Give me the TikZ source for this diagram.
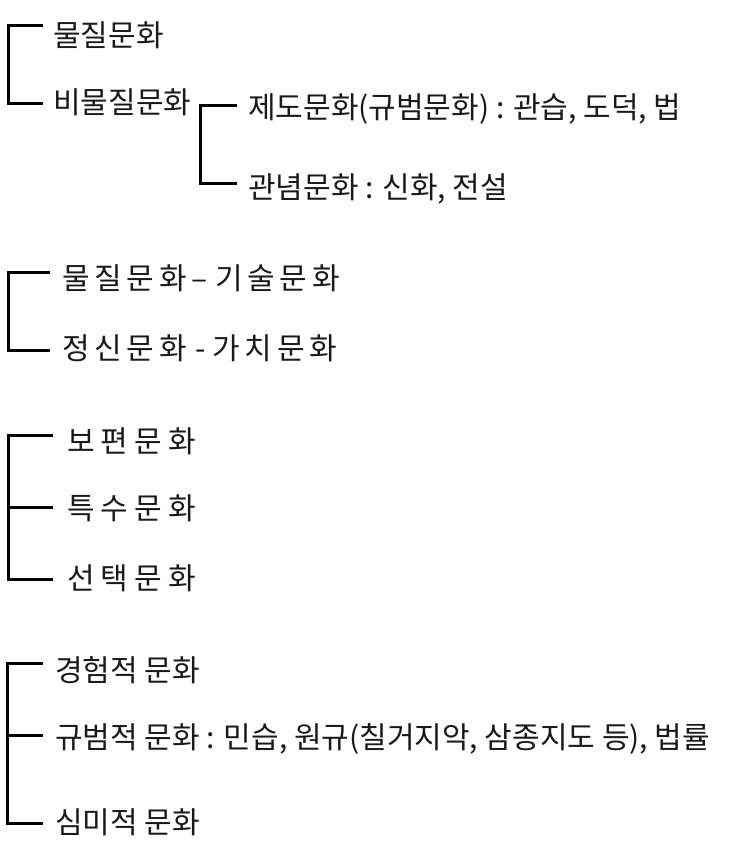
\documentclass[tikz,border=0pt]{standalone}
\usepackage{fontspec}
\setmainfont{Noto Sans CJK KR}
\newfontfamily\spacedfont[LetterSpace=20]{Noto Sans CJK KR}
\newfontfamily\pairfont[LetterSpace=16]{Noto Sans CJK KR}
\tikzstyle{brk}=[black, line width=3pt]
\tikzstyle{item}=[anchor=base west, inner sep=0pt, text=black!90, font=\fontsize{30}{34}\selectfont]

\begin{document}
\begin{tikzpicture}[x=1pt, y=-1pt]
	\useasboundingbox (0,0) rectangle (743,860);
	% first split
	\node[item] (mat) at (53,46) {물질문화};
	\node[item] (nonmat) at (53,113) {비물질문화};
	\coordinate (g1x) at (8,0);
	\coordinate (g1a) at (43,25);
	\coordinate (g1b) at (43,103);
	\draw[brk] (g1a) -- (g1a -| g1x) -- (g1b -| g1x) -- (g1b);
	% nonmaterial branches
	\node[item] (inst) at (248,118) {제도문화(규범문화) : 관습, 도덕, 법};
	\node[item] (idea) at (248,198) {관념문화 : 신화, 전설};
	\coordinate (g2x) at (200,0);
	\coordinate (g2a) at (237,105);
	\coordinate (g2b) at (237,183);
	\draw[brk] (g2a) -- (g2a -| g2x) -- (g2b -| g2x) -- (g2b);
	% second split
	\node[item] (tech) at (62,289) {{\pairfont 물질문화}\hspace{5pt}–\hspace{7pt}{\pairfont 기술문화}};
	\node[item] (mind) at (62,359) {{\pairfont 정신문화}\hspace{9pt}-\hspace{6pt}{\pairfont 가치문화}};
	\coordinate (g3x) at (8,0);
	\coordinate (g3a) at (50,272);
	\coordinate (g3b) at (50,350);
	\draw[brk] (g3a) -- (g3a -| g3x) -- (g3b -| g3x) -- (g3b);
	% third split
	\node[item] (univ) at (67,452) {\spacedfont 보편문화};
	\node[item] (spec) at (67,519) {\spacedfont 특수문화};
	\node[item] (choice) at (67,589) {\spacedfont 선택문화};
	\coordinate (g4x) at (8,0);
	\coordinate (g4a) at (53,435);
	\coordinate (g4m) at (53,507);
	\coordinate (g4b) at (53,579);
	\draw[brk] (g4a) -- (g4a -| g4x) -- (g4b -| g4x) -- (g4b);
	\draw[brk] (g4m -| g4x) -- (g4m);
	% fourth split
	\node[item] (exp) at (55,681) {경험적 문화};
	\node[item] (norm) at (55,748) {규범적 문화 : 민습, 원규(칠거지악, 삼종지도 등), 법률};
	\node[item] (aes) at (55,833) {심미적 문화};
	\coordinate (g5x) at (7,0);
	\coordinate (g5a) at (43,663);
	\coordinate (g5m) at (43,735);
	\coordinate (g5b) at (43,823);
	\draw[brk] (g5a) -- (g5a -| g5x) -- (g5b -| g5x) -- (g5b);
	\draw[brk] (g5m -| g5x) -- (g5m);
\end{tikzpicture}
\end{document}
